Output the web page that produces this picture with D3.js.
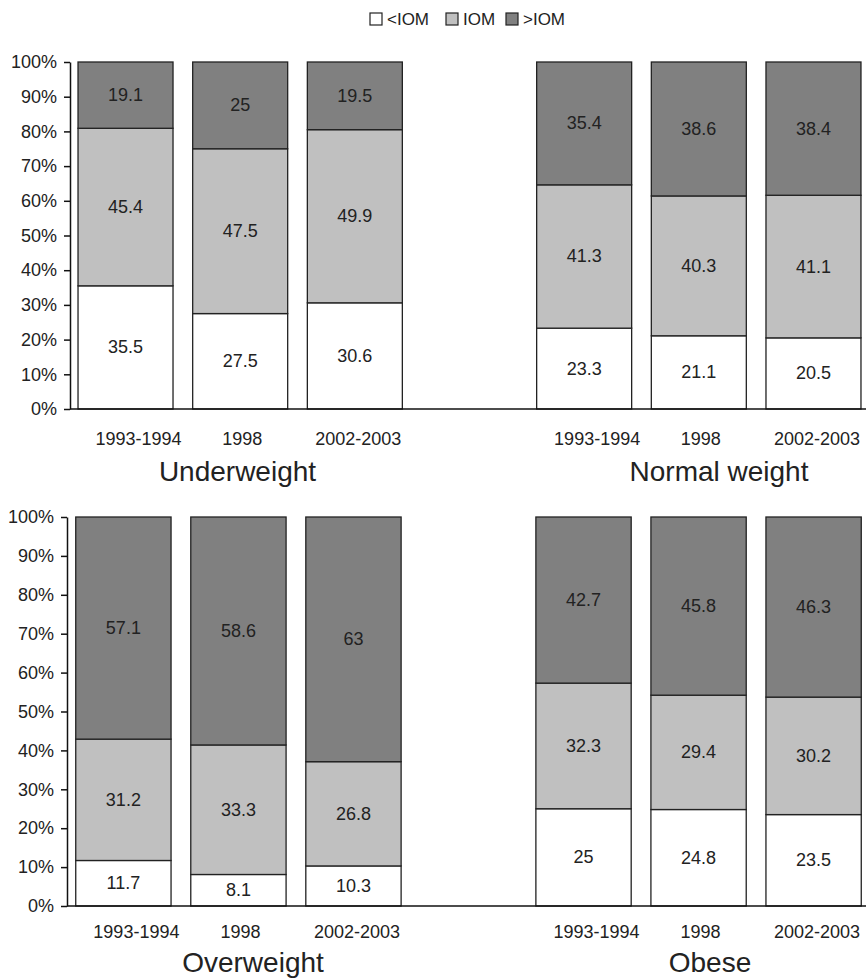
<!DOCTYPE html>
<html><head><meta charset="utf-8">
<script src="https://cdn.jsdelivr.net/npm/d3@7"></script>
<style>
html,body{margin:0;padding:0;background:#fff;}
text{font-family:"Liberation Sans",Arial,sans-serif;fill:#222;}
</style></head>
<body>
<svg id="chart" width="866" height="980"></svg>
<script>
// ---- data ----
const groups = ["Underweight", "Normal weight", "Overweight", "Obese"];
const periods = ["1993-1994", "1998", "2002-2003"];
const seriesNames = ["<IOM", "IOM", ">IOM"];
const belowIOM  = [[35.5, 27.5, 30.6], [23.3, 21.1, 20.5], [11.7, 8.1, 10.3], [25, 24.8, 23.5]];
const withinIOM = [[45.4, 47.5, 49.9], [41.3, 40.3, 41.1], [31.2, 33.3, 26.8], [32.3, 29.4, 30.2]];
const aboveIOM  = [[19.1, 25, 19.5], [35.4, 38.6, 38.4], [57.1, 58.6, 63], [42.7, 45.8, 46.3]];
const yTicks = [0, 10, 20, 30, 40, 50, 60, 70, 80, 90, 100];

// ---- layout ----
const colors = ["#ffffff", "#c0c0c0", "#808080"];
const rows = [
  {groups: [0, 1], axisX: 70, xEnd: 869, padOuter: 0.07, y0: 409, y1: 62, catDy: 30, titleY: 481, titleX: [237.5, 719]},
  {groups: [2, 3], axisX: 67, xEnd: 870, padOuter: 0.076, y0: 906, y1: 517, catDy: 26, titleY: 972, titleX: [253, 710]}
];
const labelDx = [13, 2, 3.5];
const slots = ["L0", "L1", "L2", "gap", "R0", "R1", "R2"];

const svg = d3.select("#chart");

rows.forEach(row => {
  const x = d3.scaleBand().domain(slots).range([row.axisX, row.xEnd])
    .paddingInner(0.1715).paddingOuter(row.padOuter);
  const y = d3.scaleLinear().domain([0, 100]).range([row.y0, row.y1]);
  const g = svg.append("g");

  row.groups.forEach((gi, side) => {
    const prefix = side === 0 ? "L" : "R";
    const table = periods.map((p, pi) => ({
      slot: prefix + pi, period: p,
      "<IOM": belowIOM[gi][pi], "IOM": withinIOM[gi][pi], ">IOM": aboveIOM[gi][pi]
    }));
    const stacked = d3.stack().keys(seriesNames)(table);
    stacked.forEach((layer, si) => {
      const sel = g.append("g").selectAll("g").data(layer).join("g");
      sel.append("rect")
        .attr("x", d => x(d.data.slot))
        .attr("width", x.bandwidth())
        .attr("y", d => y(Math.min(100, d[1])))
        .attr("height", d => y(d[0]) - y(Math.min(100, d[1])))
        .attr("fill", colors[si])
        .attr("stroke", "#222")
        .attr("stroke-width", 1.3);
      sel.append("text")
        .attr("x", d => x(d.data.slot) + x.bandwidth() / 2)
        .attr("y", d => (y(d[0]) + y(Math.min(100, d[1]))) / 2)
        .attr("text-anchor", "middle")
        .attr("dominant-baseline", "central")
        .attr("font-size", 18)
        .text(d => d.data[layer.key]);
    });
    // category labels
    g.append("g").selectAll("text").data(table).join("text")
      .attr("x", (d, i) => x(d.slot) + x.bandwidth() / 2 + labelDx[i])
      .attr("y", row.y0 + row.catDy)
      .attr("text-anchor", "middle")
      .attr("dominant-baseline", "central")
      .attr("font-size", 18)
      .text(d => d.period);
    // group title
    g.append("text")
      .attr("x", row.titleX[side])
      .attr("y", row.titleY)
      .attr("text-anchor", "middle")
      .attr("font-size", 28)
      .text(groups[gi]);
  });

  // y axis
  const yAxis = d3.axisLeft(y).tickValues(yTicks).tickFormat(d => d + "%").tickSize(6).tickPadding(7).tickSizeOuter(0);
  const ag = g.append("g").attr("transform", `translate(${row.axisX},0)`).call(yAxis);
  ag.select(".domain").attr("stroke", "#111").attr("stroke-width", 1.5);
  ag.selectAll(".tick line").attr("stroke", "#111").attr("stroke-width", 1.5);
  ag.selectAll(".tick text").attr("font-size", 18).attr("font-family", '"Liberation Sans",Arial,sans-serif').attr("fill", "#222");
  // x baseline
  g.append("line")
    .attr("x1", row.axisX).attr("x2", 866)
    .attr("y1", y(0)).attr("y2", y(0))
    .attr("stroke", "#111").attr("stroke-width", 1.5);
});

// legend
const legendX = [370, 446, 506];
const leg = svg.append("g").selectAll("g").data(seriesNames).join("g")
  .attr("transform", (d, i) => `translate(${legendX[i]},13)`);
leg.append("rect").attr("width", 12).attr("height", 12)
  .attr("fill", (d, i) => colors[i]).attr("stroke", "#222").attr("stroke-width", 1.2);
leg.append("text").attr("x", 17).attr("y", 6.5)
  .attr("dominant-baseline", "central").attr("font-size", 17).text(d => d);
</script>
</body></html>
